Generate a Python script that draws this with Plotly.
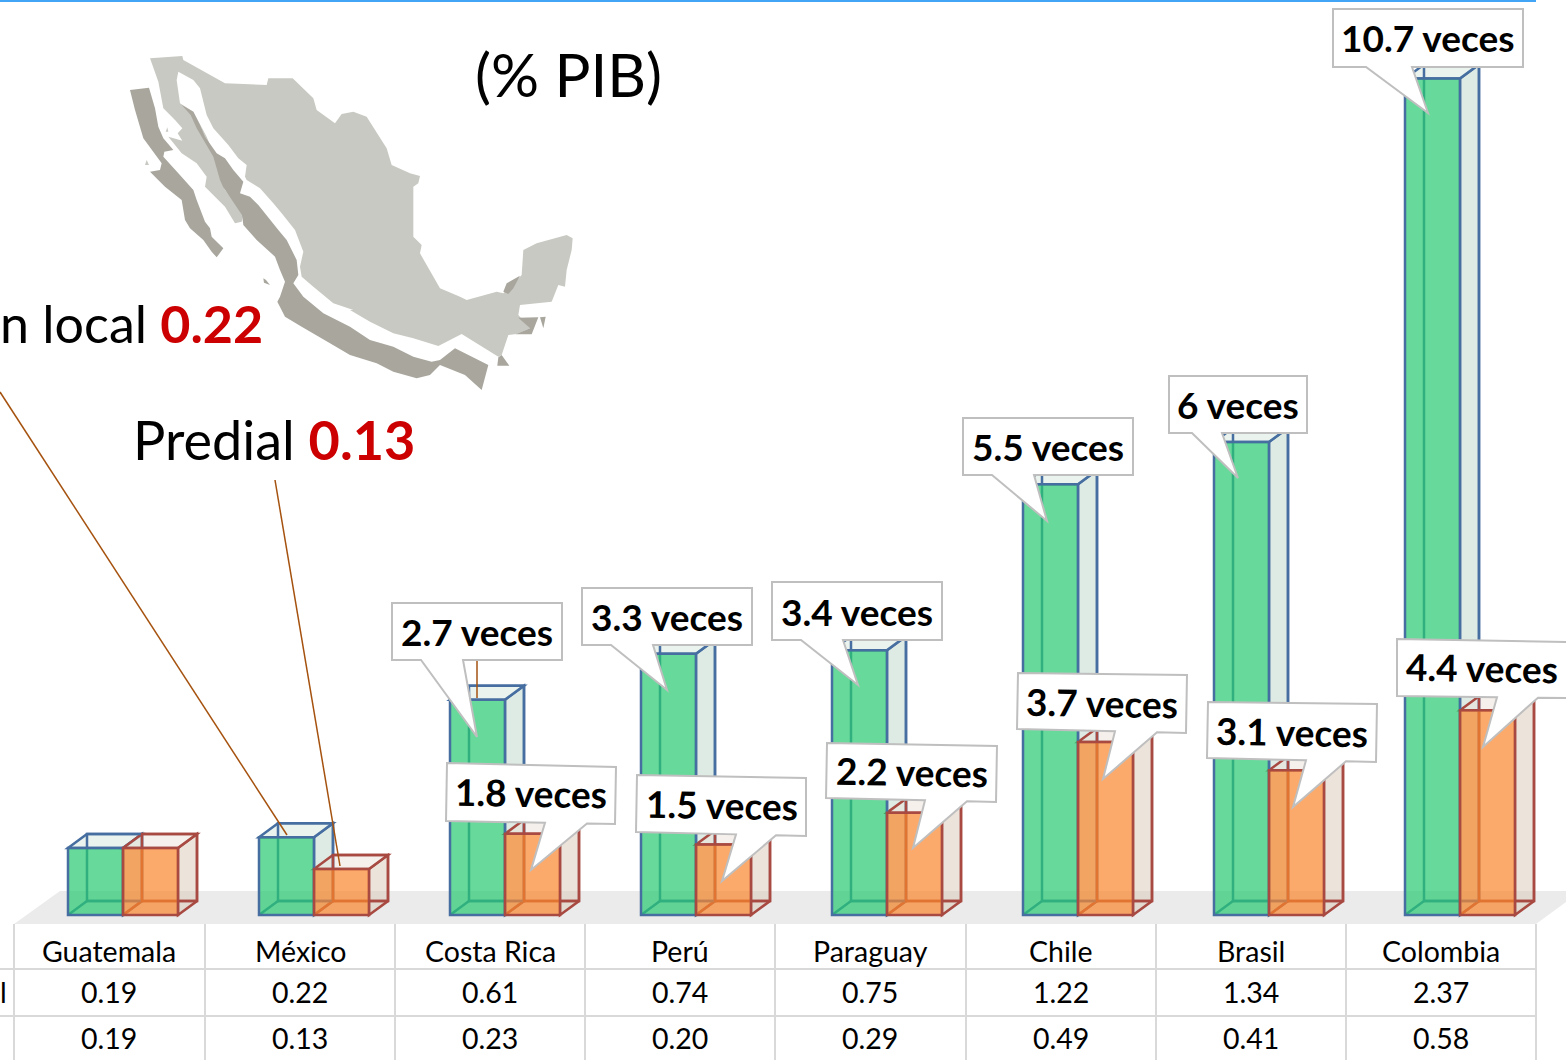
import plotly.graph_objects as go

# ---------- data ----------
categories = ["Guatemala", "México", "Costa Rica", "Perú", "Paraguay", "Chile", "Brasil", "Colombia"]
local_values = [0.19, 0.22, 0.61, 0.74, 0.75, 1.22, 1.34, 2.37]
predial = [0.19, 0.13, 0.23, 0.20, 0.29, 0.49, 0.41, 0.58]
local_labels = ["0.19", "0.22", "0.61", "0.74", "0.75", "1.22", "1.34", "2.37"]
predial_labels = ["0.19", "0.13", "0.23", "0.20", "0.29", "0.49", "0.41", "0.58"]
upper_callouts = ["2.7 veces", "3.3 veces", "3.4 veces", "5.5 veces", "6 veces", "10.7 veces"]
lower_callouts = ["1.8 veces", "1.5 veces", "2.2 veces", "3.7 veces", "3.1 veces", "4.4 veces"]

# ---------- page geometry ----------
W, H = 1566, 1060
BASE_PX, CAT0_PX, CAT_STEP = 915, 123, 191
PX_PER_UNIT = 353
bar_w = 55 / CAT_STEP
dx = 19 / CAT_STEP
dy = 14 / PX_PER_UNIT
FONT = "Lato"
EDGE = 2.5


def px(x, y):
    return x / W, 1 - y / H


def poly_path(points):
    pts = [px(*p) for p in points]
    return "M " + " L ".join(f"{a:.5f} {b:.5f}" for a, b in pts) + " Z"


def paper_poly(points, fill, line=None, lw=0, layer="below"):
    return dict(type="path", xref="paper", yref="paper", path=poly_path(points), fillcolor=fill,
                line=dict(color=line or "rgba(0,0,0,0)", width=lw), layer=layer)


def paper_line(x0, y0, x1, y1, color, lw, layer="above"):
    a, b = px(x0, y0)
    c, d = px(x1, y1)
    return dict(type="line", xref="paper", yref="paper", x0=a, y0=b, x1=c, y1=d,
                line=dict(color=color, width=lw), layer=layer)


def data_poly(points, fill, line):
    path = "M " + " L ".join(f"{a:.5f} {b:.5f}" for a, b in points) + " Z"
    return dict(type="path", xref="x", yref="y", path=path, fillcolor=fill,
                line=dict(color=line, width=EDGE), layer="below")


def data_line(a, b, line):
    return dict(type="line", xref="x", yref="y", x0=a[0], y0=a[1], x1=b[0], y1=b[1],
                line=dict(color=line, width=EDGE), layer="below")


shapes = []
# floor
shapes.append(paper_poly([(14, 924), (60, 891), (1566, 891), (1566, 902), (1536, 924)], "#ebebeb"))

# map (outline traced in four local frames)
LIGHT, DARK = "#c9c9c3", "#a8a69d"


def fa(points):
    return [(125 + a / 3, 50 + b / 3) for a, b in points]


def fb(points):
    return [(190 + a / 3, 180 + b / 3) for a, b in points]


def fc(points):
    return [(350 + a / 3, 220 + b / 3) for a, b in points]


def fz(points):
    return [(120 + a / 3, 40 + b / 3) for a, b in points]


map_main = (
    fa([(75, 25), (172, 18), (175, 30), (300, 100), (425, 105), (430, 85), (503, 85), (565, 145)])
    + fz([(590, 210), (645, 250), (665, 222), (700, 215), (740, 230), (800, 325), (815, 375), (870, 400),
          (900, 408), (895, 430), (880, 440)])
    + fc([(190, 0), (190, 50), (215, 75), (210, 100), (270, 205), (330, 230), (350, 240), (440, 215), (460, 220),
          (515, 165), (520, 90), (560, 70), (650, 45), (668, 55), (665, 90), (650, 150), (645, 200), (625, 195),
          (605, 245), (510, 255), (505, 285), (540, 325), (500, 342), (475, 345), (455, 405), (445, 410),
          (335, 342), (265, 378), (190, 355), (130, 340), (60, 305), (0, 270)])
    + fb([(490, 390), (430, 370), (370, 320), (335, 290), (330, 260), (340, 215), (315, 150), (275, 100),
          (250, 70), (210, 25), (170, 0)])
    + fa([(360, 380), (365, 345), (340, 325), (310, 285), (265, 235), (245, 195), (225, 115), (205, 90), (160, 65),
          (155, 90), (165, 160), (205, 185), (245, 260), (275, 335), (300, 420), (355, 490), (350, 515), (330, 520),
          (300, 470), (240, 410), (245, 380), (215, 340), (170, 310), (130, 260), (172, 272), (158, 250), (172, 235),
          (150, 210), (115, 175), (100, 95)])
)
map_baja = (
    fa([(15, 120), (72, 113), (90, 175), (100, 230), (115, 265), (145, 300), (118, 305), (115, 320), (160, 370),
        (205, 420)])
    + fb([(20, 60), (45, 125), (60, 145), (65, 170), (100, 205), (80, 232), (65, 215), (40, 180), (0, 145)])
    + fa([(180, 510), (170, 450), (120, 410), (75, 365), (105, 360), (110, 340), (55, 265), (30, 180)])
)
map_coast = (
    fa([(170, 165), (205, 185), (225, 225), (240, 260), (275, 310), (300, 325), (325, 360), (355, 395), (345, 430),
        (375, 440), (400, 465), (460, 540)])
    + fb([(290, 180), (320, 240), (325, 285), (310, 310), (340, 350), (400, 400)])
    + fc([(0, 320), (60, 360), (130, 380), (190, 410), (245, 425), (270, 420), (315, 385), (415, 435), (395, 510),
          (345, 465), (270, 435), (240, 465), (200, 475), (130, 455), (80, 430), (0, 405)])
    + fb([(420, 490), (335, 440), (285, 410), (262, 365), (270, 350), (285, 305), (270, 270), (255, 230), (200, 180),
          (160, 135)])
    + fa([(351, 495), (294, 410), (285, 390), (265, 320), (215, 235), (197, 195)])
)
map_yuc = fc([(460, 215), (470, 190), (510, 167), (490, 205), (475, 222)])
map_tab = fc([(505, 293), (565, 292), (545, 343), (497, 343), (540, 325)])
map_wedge = fc([(570, 292), (587, 290), (580, 325)])
map_chi = fc([(455, 405), (478, 437), (442, 437), (445, 412)])
map_isle1 = fb([(220, 295), (228, 300), (240, 315), (222, 308)])
map_isle2 = fa([(65, 330), (72, 345), (60, 345)])
map_isle3 = fa([(127, 232), (130, 245), (122, 245)])
shapes.append(paper_poly(map_main, LIGHT))
for p in (map_isle2, map_isle3):
    shapes.append(paper_poly(p, LIGHT))
for p in (map_baja, map_coast, map_yuc, map_tab, map_wedge, map_chi, map_isle1):
    shapes.append(paper_poly(p, DARK))

# 3-D faces of the bars, derived from the values
GREEN_LINE, ORANGE_LINE = "#466ea0", "#a84a42"
for series, off, line, side, top in (
    (local_values, -bar_w, GREEN_LINE, "rgba(189,213,201,0.5)", "rgba(213,231,221,0.5)"),
    (predial, 0, ORANGE_LINE, "rgba(217,199,183,0.5)", "rgba(235,225,215,0.5)"),
):
    for i, v in enumerate(series):
        x0 = i + off
        x1 = x0 + bar_w
        shapes.append(data_poly([(x1, 0), (x1 + dx, dy), (x1 + dx, v + dy), (x1, v)], side, line))
        shapes.append(data_poly([(x0, v), (x0 + dx, v + dy), (x1 + dx, v + dy), (x1, v)], top, line))
        shapes.append(data_line((x0, 0), (x0 + dx, dy), line))
        shapes.append(data_line((x0 + dx, dy), (x1 + dx, dy), line))

# table grid
TABLE_X = [14, 205, 395, 585, 775, 966, 1156, 1346, 1536]
GRID = "#d9d9d9"
for x in TABLE_X:
    shapes.append(paper_line(x, 924, x, 1060, GRID, 2))
for y in (969, 1016):
    shapes.append(paper_line(0, y, 1536, y, GRID, 2))

# top rule
shapes.append(paper_line(0, 1, 1536, 1, "#42a5f5", 2))

# leaders
LEADER = "#a5520f"
shapes.append(paper_line(0, 392, 287, 835, LEADER, 1.5))
shapes.append(paper_line(275, 480, 340, 866, LEADER, 1.5))
shapes.append(paper_line(477, 660, 477, 698, LEADER, 1.5))

# callouts
upper_geo = [
    ((392, 603, 562, 660), (421, 463), (477, 737)),
    ((582, 588, 752, 645), (611, 653), (667, 690)),
    ((772, 582, 942, 640), (801, 843), (858, 685)),
    ((963, 418, 1133, 475), (992, 1034), (1047, 521)),
    ((1169, 376, 1307, 433), (1192, 1222), (1238, 478)),
    ((1333, 9, 1523, 67), (1366, 1412), (1428, 113)),
]
lower_geo = [
    ((447, 763), (616, 767), (615, 824), (446, 821), (587, 545), (531, 870)),
    ((637, 775), (806, 778), (806, 836), (636, 832), (776, 736), (722, 881)),
    ((827, 743), (997, 746), (996, 802), (826, 798), (967, 925), (913, 848)),
    ((1018, 673), (1187, 675), (1186, 733), (1017, 729), (1157, 1115), (1103, 779)),
    ((1208, 702), (1377, 704), (1376, 762), (1207, 758), (1346, 1306), (1293, 807)),
    ((1397, 639), (1568, 642), (1568, 698), (1397, 696), (1538, 1497), (1483, 747)),
]
CALL_LINE = "#bfbfbf"
annotations = []


def note(x, y, text, size, bold=False, angle=0, xanchor="center"):
    a, b = px(x, y)
    annotations.append(dict(x=a, y=b, xref="paper", yref="paper", text=f"<b>{text}</b>" if bold else text,
                            showarrow=False, font=dict(family=FONT, size=size, color="#000000"),
                            xanchor=xanchor, yanchor="middle", textangle=angle))


for (x0, y0, x1, y1), (b0, b1), tip in upper_geo:
    shapes.append(paper_poly([(x0, y0), (x1, y0), (x1, y1), (b1, y1), tip, (b0, y1), (x0, y1)],
                             "#ffffff", CALL_LINE, 2, "above"))
for tl, tr, br, bl, (b0, b1), tip in lower_geo:
    t0 = (b0 - bl[0]) / (br[0] - bl[0])
    t1 = (b1 - bl[0]) / (br[0] - bl[0])
    y_b0 = bl[1] + t0 * (br[1] - bl[1])
    y_b1 = bl[1] + t1 * (br[1] - bl[1])
    shapes.append(paper_poly([tl, tr, br, (b0, y_b0), tip, (b1, y_b1), bl], "#ffffff", CALL_LINE, 2, "above"))

CALL_SIZE = 37
for label, ((x0, y0, x1, y1), _, _) in zip(upper_callouts, upper_geo):
    note((x0 + x1) / 2, (y0 + y1) / 2, label, CALL_SIZE, bold=True)
for label, (tl, tr, br, bl, _, _) in zip(lower_callouts, lower_geo):
    cx = (tl[0] + br[0]) / 2 if tr[0] < 1566 else 1482
    note(cx, (tl[1] + br[1]) / 2 - 1, label, CALL_SIZE, bold=True, angle=1)

# titles and map labels
RED = "#cc0000"
note(568, 74, "(% PIB)", 60)
note(265, 323, f'n local <b><span style="color:{RED}">0.22</span></b>', 52, xanchor="right")
note(131, 439, f'Predial <b><span style="color:{RED}">0.13</span></b>', 54, xanchor="left")

# table text
ROW_Y = (951, 992, 1038)
TABLE_SIZE = 28.5
for i, name in enumerate(categories):
    cx = (TABLE_X[i] + TABLE_X[i + 1]) / 2
    note(cx, ROW_Y[0], name, TABLE_SIZE)
    note(cx, ROW_Y[1], local_labels[i], TABLE_SIZE)
    note(cx, ROW_Y[2], predial_labels[i], TABLE_SIZE)
note(3, ROW_Y[1], "l", TABLE_SIZE)

# ---------- figure ----------
idx = list(range(len(categories)))
fig = go.Figure()
clear = "rgba(0,0,0,0)"
fig.add_trace(go.Bar(x=idx, y=local_values, base=dy, width=bar_w, offset=-bar_w + dx,
                     marker=dict(color=clear, line=dict(color=GREEN_LINE, width=EDGE)), showlegend=False,
                     name="Local (fondo)"))
fig.add_trace(go.Bar(x=idx, y=predial, base=dy, width=bar_w, offset=dx,
                     marker=dict(color=clear, line=dict(color=ORANGE_LINE, width=EDGE)), showlegend=False,
                     name="Predial (fondo)"))
fig.add_trace(go.Bar(x=idx, y=local_values, width=bar_w, offset=-bar_w,
                     marker=dict(color="rgba(39,202,112,0.7)", line=dict(color=GREEN_LINE, width=EDGE)),
                     showlegend=False, name="Local"))
fig.add_trace(go.Bar(x=idx, y=predial, width=bar_w, offset=0,
                     marker=dict(color="rgba(251,134,44,0.7)", line=dict(color=ORANGE_LINE, width=EDGE)),
                     showlegend=False, name="Predial"))

fig.update_layout(
    width=W, height=H, margin=dict(l=0, r=0, t=0, b=0, pad=0), autosize=False,
    paper_bgcolor="#ffffff", plot_bgcolor="rgba(0,0,0,0)", barmode="overlay",
    xaxis=dict(visible=False, range=[-CAT0_PX / CAT_STEP, (W - CAT0_PX) / CAT_STEP], fixedrange=True),
    yaxis=dict(visible=False, range=[(BASE_PX - H) / PX_PER_UNIT, BASE_PX / PX_PER_UNIT], fixedrange=True),
    shapes=shapes, annotations=annotations, showlegend=False,
)

fig.write_html("out.html", config={"displayModeBar": False},
               post_script="document.body.style.margin='0';document.body.style.overflow='hidden';")
